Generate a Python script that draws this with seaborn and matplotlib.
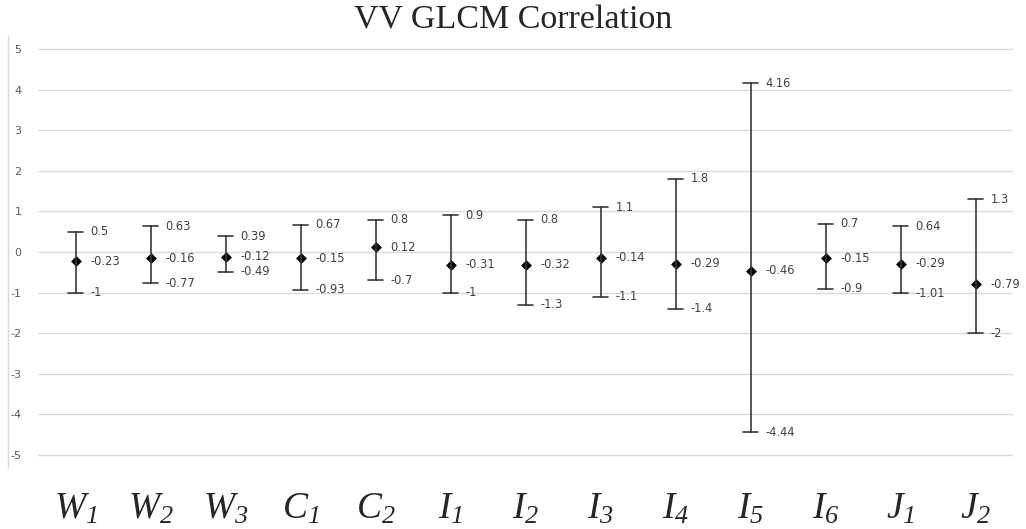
import pandas as pd
import matplotlib
matplotlib.use('Agg')
import matplotlib.pyplot as plt
from matplotlib.lines import Line2D
import seaborn as sns

# 데이터: 카테고리별 최대 / 평균 / 최소
sites = ['W1', 'W2', 'W3', 'C1', 'C2', 'I1', 'I2', 'I3', 'I4', 'I5', 'I6', 'J1', 'J2']
tick_labels = [r'$W_{1}$', r'$W_{2}$', r'$W_{3}$', r'$C_{1}$', r'$C_{2}$',
               r'$I_{1}$', r'$I_{2}$', r'$I_{3}$', r'$I_{4}$', r'$I_{5}$', r'$I_{6}$',
               r'$J_{1}$', r'$J_{2}$']
high = [0.5, 0.63, 0.39, 0.67, 0.8, 0.9, 0.8, 1.1, 1.8, 4.16, 0.7, 0.64, 1.3]
mean = [-0.23, -0.16, -0.12, -0.15, 0.12, -0.31, -0.32, -0.14, -0.29, -0.46, -0.15, -0.29, -0.79]
low = [-1, -0.77, -0.49, -0.93, -0.7, -1, -1.3, -1.1, -1.4, -4.44, -0.9, -1.01, -2]

# long format -> median = 평균값, min/max = 범위
df = pd.DataFrame({
    'site': sites * 3,
    'value': high + mean + low,
})

sns.set_theme(style='white')
plt.rcParams['axes.unicode_minus'] = False
plt.rcParams['mathtext.fontset'] = 'custom'
plt.rcParams['mathtext.it'] = 'Liberation Serif:italic'
plt.rcParams['mathtext.rm'] = 'Liberation Serif:italic'

fig = plt.figure(figsize=(10.26, 5.29), dpi=100)
ax = fig.add_axes([38 / 1026, (529 - 468) / 529, (1013 - 38) / 1026, (468 - 36) / 529])

sns.pointplot(data=df, x='site', y='value', order=sites,
              estimator='median', errorbar=lambda v: (v.min(), v.max()),
              linestyle='none', markers='D', markersize=3.5,
              color='black', capsize=0.19,
              err_kws={'color': '#3a3a3a', 'linewidth': 1.2}, ax=ax)

# 라벨 표시
for i in range(len(sites)):
    for v in (high[i], mean[i], low[i]):
        ax.text(i + 0.2, v, f'{v:g}', fontsize=8.3, color='#404040',
                va='center', ha='left', family='DejaVu Sans')

ax.set_ylim(-5.32, 5.32)
ax.set_xlim(-0.5, len(sites) - 0.5)
ax.set_yticks(range(-5, 6))
ax.yaxis.grid(True, color='#d9d9d9', lw=1)
ax.set_axisbelow(True)
for s in ax.spines.values():
    s.set_visible(False)
ax.tick_params(axis='y', length=0, pad=12, labelsize=8, labelcolor='#595959')
ax.tick_params(axis='x', length=0, pad=16)
ax.set_xticks(range(len(sites)))
ax.set_xticklabels(tick_labels, fontsize=27)
ax.set_xlabel('')
ax.set_ylabel('')

# 왼쪽 세로선
fig.add_artist(Line2D([8 / 1026, 8 / 1026], [(529 - 468) / 529, (529 - 36) / 529],
                      color='#d9d9d9', lw=1))

fig.suptitle('VV GLCM Correlation', fontsize=24.5, family='Liberation Serif', y=0.99)

fig.savefig('out.png', dpi=100)
